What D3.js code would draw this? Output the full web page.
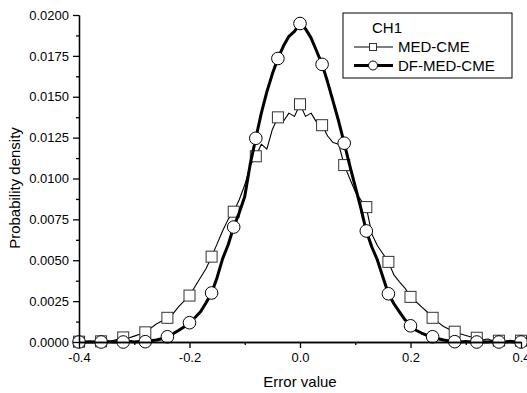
<!DOCTYPE html>
<html>
<head>
<meta charset="utf-8">
<script src="https://cdn.jsdelivr.net/npm/d3@7"></script>
<style>
    html, body { margin: 0; padding: 0; background: #fff; }
    svg { display: block; font-family: Arial, "Liberation Sans", sans-serif; }
</style>
</head>
<body>
<svg id="drawing_region"></svg>
<script>
// error value grid (x)
const errorValues = [
    -0.40, -0.39, -0.38, -0.37, -0.36, -0.35, -0.34, -0.33, -0.32, -0.31,
    -0.30, -0.29, -0.28, -0.27, -0.26, -0.25, -0.24, -0.23, -0.22, -0.21,
    -0.20, -0.19, -0.18, -0.17, -0.16, -0.15, -0.14, -0.13, -0.12, -0.11,
    -0.10, -0.09, -0.08, -0.07, -0.06, -0.05, -0.04, -0.03, -0.02, -0.01,
    0.00, 0.01, 0.02, 0.03, 0.04, 0.05, 0.06, 0.07, 0.08, 0.09,
    0.10, 0.11, 0.12, 0.13, 0.14, 0.15, 0.16, 0.17, 0.18, 0.19,
    0.20, 0.21, 0.22, 0.23, 0.24, 0.25, 0.26, 0.27, 0.28, 0.29,
    0.30, 0.31, 0.32, 0.33, 0.34, 0.35, 0.36, 0.37, 0.38, 0.39,
    0.40
];

// MED-CME probability density
const medCme = [
    0.00002, 0.00000, 0.00003, 0.00000, 0.00004, 0.00002, 0.00008, 0.00016, 0.00028, 0.00024,
    0.00036, 0.00048, 0.00059, 0.00085, 0.00110, 0.00128, 0.00148, 0.00172, 0.00215, 0.00250,
    0.00284, 0.00340, 0.00395, 0.00450, 0.00522, 0.00600, 0.00680, 0.00750, 0.00797, 0.00870,
    0.00960, 0.01080, 0.01136, 0.01210, 0.01180, 0.01300, 0.01374, 0.01350, 0.01400, 0.01380,
    0.01454, 0.01380, 0.01400, 0.01345, 0.01326, 0.01260, 0.01220, 0.01210, 0.01082, 0.01000,
    0.00920, 0.00870, 0.00825, 0.00660, 0.00590, 0.00540, 0.00490, 0.00410, 0.00368, 0.00330,
    0.00276, 0.00246, 0.00215, 0.00185, 0.00148, 0.00120, 0.00095, 0.00078, 0.00063, 0.00050,
    0.00040, 0.00030, 0.00026, 0.00012, 0.00018, 0.00006, 0.00008, 0.00003, 0.00010, 0.00004,
    0.00008
];

// DF-MED-CME probability density
const dfMedCme = [
    0.00000, 0.00000, 0.00002, 0.00000, 0.00000, 0.00003, 0.00000, 0.00002, 0.00000, 0.00004,
    0.00000, 0.00003, 0.00002, 0.00008, 0.00012, 0.00020, 0.00032, 0.00050, 0.00070, 0.00092,
    0.00118, 0.00150, 0.00185, 0.00240, 0.00300, 0.00395, 0.00510, 0.00595, 0.00703, 0.00790,
    0.00890, 0.01090, 0.01246, 0.01400, 0.01530, 0.01640, 0.01734, 0.01810, 0.01870, 0.01900,
    0.01948, 0.01915, 0.01860, 0.01780, 0.01698, 0.01590, 0.01470, 0.01350, 0.01216, 0.01080,
    0.00950, 0.00820, 0.00679, 0.00581, 0.00502, 0.00398, 0.00295, 0.00234, 0.00184, 0.00136,
    0.00099, 0.00072, 0.00055, 0.00040, 0.00032, 0.00020, 0.00012, 0.00006, 0.00002, 0.00000,
    0.00003, 0.00000, 0.00000, 0.00002, 0.00000, 0.00003, 0.00000, 0.00000, 0.00002, 0.00000,
    0.00000
];

const xTicks = [-0.4, -0.2, 0.0, 0.2, 0.4];
const xMinorTicks = [-0.3, -0.1, 0.1, 0.3];
const yTicks = [0, 0.0025, 0.005, 0.0075, 0.01, 0.0125, 0.015, 0.0175, 0.02];
const yMinorTicks = [0.00125, 0.00375, 0.00625, 0.00875, 0.01125, 0.01375, 0.01625, 0.01875];
const seriesNames = ['MED-CME', 'DF-MED-CME'];
const legendTitle = 'CH1';
const xTitle = 'Error value';
const yTitle = 'Probability density';

class densityChart {

    constructor(config) {
        this.config = {
            parent: config.parent,
            width: config.width || 527,
            height: config.height || 393,
            margin: config.margin || { top: 15, right: 6, bottom: 51, left: 79 }
        };
        this.init();
    }

    init() {
        let self = this;
        self.svg = d3.select(self.config.parent)
            .attr('width', self.config.width)
            .attr('height', self.config.height);
        self.chart = self.svg.append('g')
            .attr('transform', `translate(${self.config.margin.left}, ${self.config.margin.top})`);

        self.inner_width = self.config.width - self.config.margin.left - self.config.margin.right;
        self.inner_height = self.config.height - self.config.margin.top - self.config.margin.bottom;

        self.xscale = d3.scaleLinear().domain([-0.4, 0.4]).range([0, self.inner_width]);
        self.yscale = d3.scaleLinear().domain([0, 0.02]).range([self.inner_height, 0]);
    }

    render() {
        let self = this;
        const xs = self.xscale, ys = self.yscale;

        const line = d3.line()
            .x((d, i) => xs(errorValues[i]))
            .y(d => ys(d));

        // MED-CME: thin line + squares
        self.chart.append('path')
            .attr('d', line(medCme))
            .attr('fill', 'none')
            .attr('stroke', '#000')
            .attr('stroke-width', 1.1)
            .attr('stroke-linejoin', 'round');
        self.chart.selectAll('.sq')
            .data(medCme.map((v, i) => [errorValues[i], v]).filter((d, i) => i % 4 === 0))
            .join('rect')
            .attr('x', d => xs(d[0]) - 5.5)
            .attr('y', d => ys(d[1]) - 5.5)
            .attr('width', 11)
            .attr('height', 11)
            .attr('fill', '#fff')
            .attr('stroke', '#333')
            .attr('stroke-width', 1);

        // DF-MED-CME: thick line + circles
        self.chart.append('path')
            .attr('d', line(dfMedCme))
            .attr('fill', 'none')
            .attr('stroke', '#000')
            .attr('stroke-width', 3)
            .attr('stroke-linejoin', 'round');
        self.chart.selectAll('.ci')
            .data(dfMedCme.map((v, i) => [errorValues[i], v]).filter((d, i) => i % 4 === 0))
            .join('circle')
            .attr('cx', d => xs(d[0]))
            .attr('cy', d => ys(d[1]))
            .attr('r', 6.3)
            .attr('fill', '#fff')
            .attr('stroke', '#000')
            .attr('stroke-width', 1);

        // axes
        const xaxis = d3.axisBottom(xs).tickValues(xTicks).tickSize(6).tickSizeOuter(0)
            .tickPadding(5).tickFormat(d => d.toFixed(1));
        const xminor = d3.axisBottom(xs).tickValues(xMinorTicks).tickSize(3).tickSizeOuter(0)
            .tickFormat('');
        const yaxis = d3.axisLeft(ys).tickValues(yTicks).tickSize(6).tickSizeOuter(0)
            .tickPadding(4).tickFormat(d => d.toFixed(4));
        const yminor = d3.axisLeft(ys).tickValues(yMinorTicks).tickSize(3).tickSizeOuter(0)
            .tickFormat('');

        [
            self.chart.append('g').attr('transform', `translate(0, ${self.inner_height})`).call(xminor),
            self.chart.append('g').attr('transform', `translate(0, ${self.inner_height})`).call(xaxis),
            self.chart.append('g').call(yminor),
            self.chart.append('g').call(yaxis)
        ].forEach(g => {
            g.selectAll('path, line').attr('stroke', '#000').attr('stroke-width', 1.3);
            g.selectAll('text').attr('fill', '#000').style('font-size', '13px')
                .style('font-family', 'Arial, "Liberation Sans", sans-serif');
        });

        // axis titles
        self.svg.append('text')
            .attr('x', self.config.margin.left + xs(0))
            .attr('y', 387)
            .attr('text-anchor', 'middle')
            .style('font-size', '15px')
            .text(xTitle);
        self.svg.append('text')
            .attr('transform', 'translate(20, 188) rotate(-90)')
            .attr('text-anchor', 'middle')
            .style('font-size', '15px')
            .text(yTitle);

        // legend
        const lg = self.svg.append('g').attr('transform', 'translate(343, 13)');
        lg.append('rect')
            .attr('width', 169).attr('height', 65)
            .attr('fill', '#fff').attr('stroke', '#000').attr('stroke-width', 1);
        lg.append('text').attr('x', 29).attr('y', 20).style('font-size', '15px').text(legendTitle);
        seriesNames.forEach((name, i) => {
            const cy = 34 + i * 18.5;
            lg.append('line')
                .attr('x1', 11).attr('x2', 50).attr('y1', cy).attr('y2', cy)
                .attr('stroke', '#000').attr('stroke-width', i === 0 ? 1.1 : 3);
            if (i === 0) {
                lg.append('rect').attr('x', 26.5).attr('y', cy - 3.5).attr('width', 7).attr('height', 7)
                    .attr('fill', '#fff').attr('stroke', '#333');
            } else {
                lg.append('circle').attr('cx', 30).attr('cy', cy).attr('r', 4.5)
                    .attr('fill', '#fff').attr('stroke', '#000');
            }
            lg.append('text').attr('x', 55).attr('y', cy + 5.3).style('font-size', '15px').text(name);
        });
    }
}

const config = {
    parent: '#drawing_region',
    width: 527,
    height: 393,
    margin: { top: 15, right: 6, bottom: 51, left: 79 }
};
const density_chart = new densityChart(config);
density_chart.render();
</script>
</body>
</html>
